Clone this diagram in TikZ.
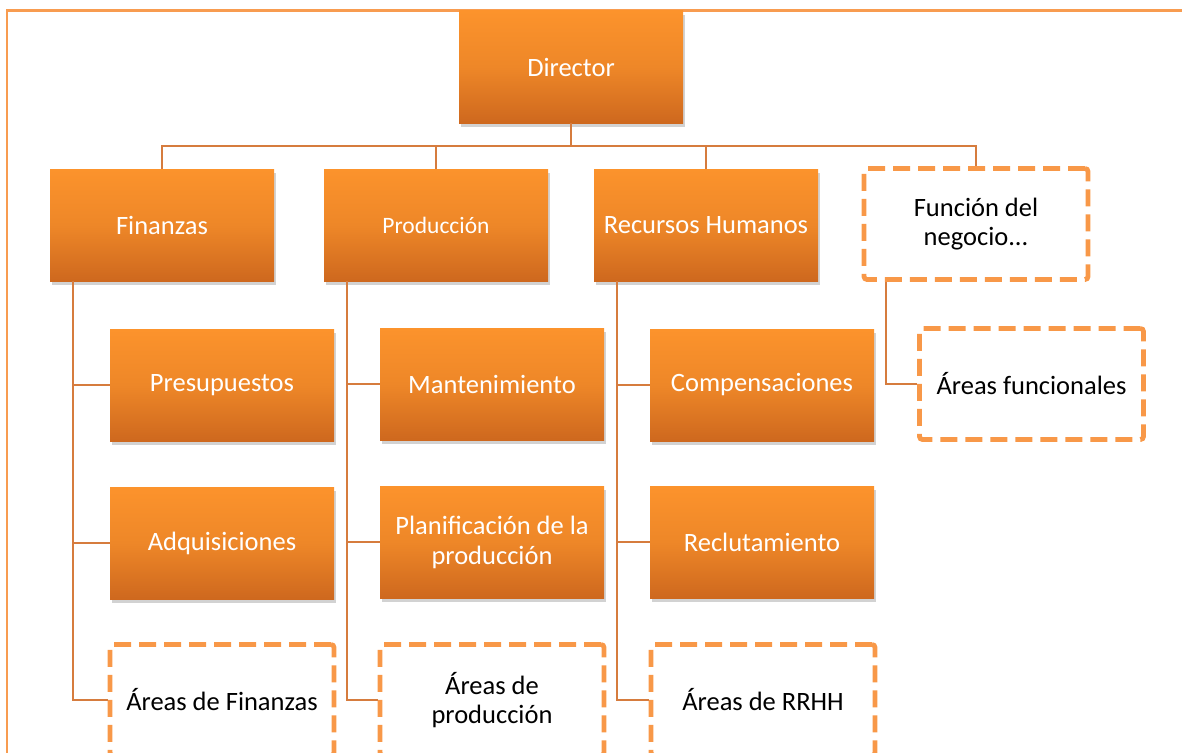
\documentclass[tikz,border=0pt]{standalone}
\usepackage{fontspec}
\setmainfont{Carlito}
\usetikzlibrary{calc,shadows}
\definecolor{orTop}{RGB}{252,147,44}
\definecolor{orMid}{RGB}{238,135,40}
\definecolor{orBot}{RGB}{206,104,30}
\definecolor{linkC}{RGB}{214,124,62}
\definecolor{dashC}{RGB}{248,152,72}
\definecolor{frameC}{RGB}{248,156,80}
\tikzset{
  x=1pt, y=1pt,
  unitbox/.style={rectangle, minimum width=224pt, minimum height=112pt,
    inner sep=4pt, align=center, text=white,
    font=\fontsize{26.5}{30}\selectfont,
    top color=orTop, bottom color=orBot, middle color=orMid,
    drop shadow={shadow xshift=2pt, shadow yshift=-4pt, opacity=0.25, fill=black!70}},
  areabox/.style={rectangle, minimum width=224pt, minimum height=111pt,
    inner sep=4pt, align=center, text=black,
    font=\fontsize{26.5}{29}\selectfont,
    draw=dashC, line width=4.8pt, dash pattern=on 17pt off 8pt,
    rounded corners=3pt, fill=white},
  link/.style={draw=linkC, line width=2pt},
  frameline/.style={draw=frameC, line width=2.2pt}
}
\begin{document}
\begin{tikzpicture}
\useasboundingbox (0,0) rectangle (1182,-752);
% outer frame edges
\draw[frameline] (7,-760) -- (7,-10.5) -- (1190,-10.5);

% top level
\node[unitbox] (dir) at (571,-67) {Director};

% functional units
\node[unitbox] (fin) at (162,-225) {Finanzas};
\node[unitbox, font=\fontsize{23.5}{28}\selectfont] (prod) at (436,-225) {Producción};
\node[unitbox] (rrhh) at (706,-225) {Recursos Humanos};
\node[areabox] (func) at (976,-224) {Función del\\negocio...};

% sub units
\node[unitbox] (pres) at (222,-385) {Presupuestos};
\node[unitbox] (adq)  at (222,-543) {Adquisiciones};
\node[areabox] (afin) at (222,-700) {Áreas de Finanzas};

\node[unitbox] (mant) at (492,-384) {Mantenimiento};
\node[unitbox] (plan) at (492,-542) {Planificación de la\\producción};
\node[areabox] (aprod) at (492,-700) {Áreas de\\producción};

\node[unitbox] (comp) at (762,-385) {Compensaciones};
\node[unitbox] (recl) at (762,-542) {Reclutamiento};
\node[areabox] (arrhh) at (763,-700) {Áreas de RRHH};

\node[areabox] (afunc) at (1031.5,-384) {Áreas funcionales};

% connectors from the director
\coordinate (bus) at ($(dir.south)+(0,-23)$);
\draw[link] (dir.south) -- (bus);
\draw[link] (bus) -| (fin.north);
\draw[link] (bus) -| (prod.north);
\draw[link] (bus) -| (rrhh.north);
\draw[link] (bus) -| (func.north);

% connectors inside each unit
\foreach \p/\a/\b/\c in {fin/pres/adq/afin, prod/mant/plan/aprod, rrhh/comp/recl/arrhh}{
  \coordinate (\p-t) at ($(\p.south west)+(23,0)$);
  \draw[link] (\p-t) |- (\c.west);
  \draw[link] (\p-t) |- (\a.west);
  \draw[link] (\p-t) |- (\b.west);
}
\coordinate (func-t) at ($(func.south west)+(24,0)$);
\draw[link] (func-t) |- (afunc.west);
\end{tikzpicture}
\end{document}
